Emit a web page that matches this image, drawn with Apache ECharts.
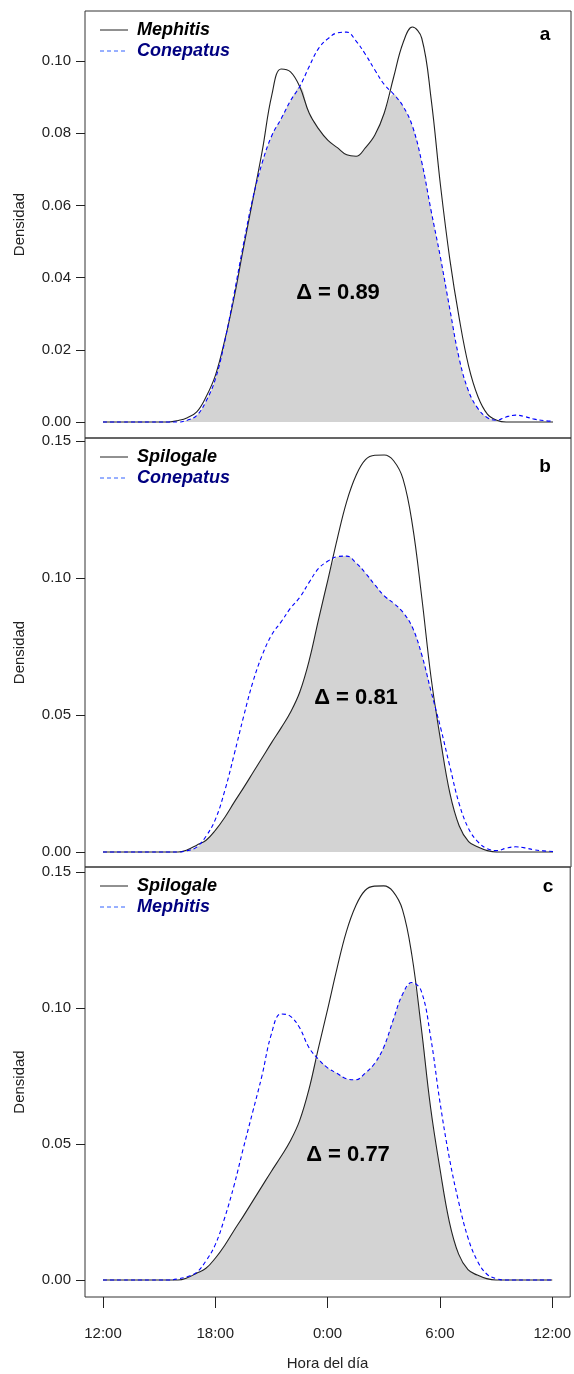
<!DOCTYPE html>
<html>
<head>
<meta charset="utf-8">
<script src="https://cdn.jsdelivr.net/npm/echarts@6/dist/echarts.min.js"></script>
<style>
  html, body { margin: 0; padding: 0; background: #fff; }
  #chart { width: 574px; height: 1374px; }
</style>
</head>
<body>
<div id="chart"></div>
<script>
// hours after noon (0 = 12:00, 12 = 0:00, 24 = 12:00 next day)
var hours = [0, 0.5, 1, 1.5, 2, 2.5, 3, 3.5, 4, 4.5, 5, 5.5, 6, 6.5, 7, 7.5, 8, 8.5, 9, 9.5,
    10, 10.5, 11, 11.5, 12, 12.5, 13, 13.5, 14, 14.5, 15, 15.5, 16, 16.5, 17, 17.5, 18, 18.5,
    19, 19.5, 20, 20.5, 21, 21.5, 22, 22.5, 23, 23.5, 24];
var hourTicks = [0, 6, 12, 18, 24];
var hourLabels = ['12:00', '18:00', '0:00', '6:00', '12:00'];

var mephitis = [0, 0, 0, 0, 0, 0, 0, 0, 0.0004, 0.0012, 0.0028, 0.0070, 0.0130, 0.0228, 0.0347,
    0.0485, 0.0618, 0.0753, 0.0905, 0.0978, 0.0970, 0.0928, 0.0855, 0.0812, 0.0780, 0.0760,
    0.0740, 0.0736, 0.0760, 0.0795, 0.0856, 0.0955, 0.1050, 0.1094, 0.1063, 0.0895, 0.0655,
    0.0450, 0.0287, 0.0155, 0.0070, 0.0022, 0.0005, 0, 0, 0, 0, 0, 0];
var conepatus = [0, 0, 0, 0, 0, 0, 0, 0, 0, 0.0005, 0.0018, 0.0058, 0.0120, 0.0225, 0.0357,
    0.0495, 0.0622, 0.0720, 0.0793, 0.0840, 0.0890, 0.0930, 0.0985, 0.1035, 0.1062, 0.1078,
    0.1080, 0.1055, 0.1018, 0.0975, 0.0935, 0.0908, 0.0875, 0.0820, 0.0720, 0.0585, 0.0455,
    0.0312, 0.0175, 0.0085, 0.0037, 0.0012, 0.0005, 0.0014, 0.0019, 0.0015, 0.0008, 0.0004, 0.0002];
var spilogale = [0, 0, 0, 0, 0, 0, 0, 0, 0, 0.0008, 0.0025, 0.0043, 0.0080, 0.0127, 0.0182,
    0.0235, 0.0290, 0.0345, 0.0400, 0.0453, 0.0510, 0.0585, 0.0700, 0.0850, 0.0995, 0.1145,
    0.1280, 0.1375, 0.1432, 0.1448, 0.1449, 0.1428, 0.1362, 0.1195, 0.0930, 0.0635, 0.0410,
    0.0215, 0.0095, 0.0038, 0.0018, 0.0005, 0, 0, 0, 0, 0, 0, 0];

var panelLetters = ['a', 'b', 'c'];
var panelNames = [['Mephitis', 'Conepatus'], ['Spilogale', 'Conepatus'], ['Spilogale', 'Mephitis']];
var overlapLabels = ['\u0394 = 0.89', '\u0394 = 0.81', '\u0394 = 0.77'];
var yTicksA = [0, 0.02, 0.04, 0.06, 0.08, 0.10];
var yTicksBC = [0, 0.05, 0.10, 0.15];

(function(){
    var myChart = echarts.init(document.getElementById('chart'));
    var curves = { Mephitis: mephitis, Conepatus: conepatus, Spilogale: spilogale };

    var grids = [
        { left: 85, top: 11, width: 486, height: 427 },
        { left: 85, top: 438, width: 486, height: 429 },
        { left: 85, top: 867, width: 486, height: 430 }
    ];
    var yRange = [[-0.00443, 0.11385], [-0.00547, 0.1511], [-0.00625, 0.15184]];
    var yTicks = [yTicksA, yTicksBC, yTicksBC];
    var letterPos = [[545, 35], [545, 467], [548, 887]];
    var deltaPos = [[338, 293], [356, 698], [348, 1155]];
    var font = 'Liberation Sans, Arial';

    var xAxes = [], yAxes = [], series = [], graphics = [];
    grids.forEach(function(g, i){
        g.show = true;
        g.borderColor = '#333';
        g.borderWidth = 1;
        g.backgroundColor = 'rgba(0,0,0,0)';
        var last = i === 2;
        xAxes.push({
            gridIndex: i,
            type: 'value',
            min: -0.96,
            max: 24.96,
            show: last,
            name: last ? 'Hora del d\u00eda' : '',
            nameLocation: 'middle',
            nameGap: 59,
            nameTextStyle: { fontSize: 15, color: '#222', fontFamily: font },
            axisLine: { show: false, onZero: false },
            splitLine: { show: false },
            axisTick: { show: true, length: 11, customValues: hourTicks, lineStyle: { color: '#222' } },
            axisLabel: {
                customValues: hourTicks,
                margin: 29,
                fontSize: 15,
                color: '#222',
                fontFamily: font,
                formatter: function(v){ return hourLabels[hourTicks.indexOf(v)]; }
            }
        });
        yAxes.push({
            gridIndex: i,
            type: 'value',
            min: yRange[i][0],
            max: yRange[i][1],
            name: 'Densidad',
            nameLocation: 'middle',
            nameGap: 58,
            nameTextStyle: { fontSize: 15, color: '#222', fontFamily: font },
            axisLine: { show: false, onZero: false },
            splitLine: { show: false },
            axisTick: { show: true, length: 9, customValues: yTicks[i], lineStyle: { color: '#222' } },
            axisLabel: {
                customValues: yTicks[i],
                margin: 14,
                fontSize: 15,
                color: '#222',
                fontFamily: font,
                formatter: function(v){ return v.toFixed(2); }
            }
        });

        var a = curves[panelNames[i][0]];
        var b = curves[panelNames[i][1]];
        var overlap = hours.map(function(h, k){ return [h, Math.min(a[k], b[k])]; });
        series.push({
            type: 'line', xAxisIndex: i, yAxisIndex: i,
            data: overlap, smooth: 0.4, symbol: 'none',
            lineStyle: { width: 0 },
            areaStyle: { color: '#d3d3d3', opacity: 1 },
            z: 1
        });
        series.push({
            name: panelNames[i][0], type: 'line', xAxisIndex: i, yAxisIndex: i,
            data: hours.map(function(h, k){ return [h, a[k]]; }),
            smooth: 0.4, symbol: 'none',
            lineStyle: { color: '#222', width: 1.1 },
            z: 3
        });
        series.push({
            name: panelNames[i][1], type: 'line', xAxisIndex: i, yAxisIndex: i,
            data: hours.map(function(h, k){ return [h, b[k]]; }),
            smooth: 0.4, symbol: 'none',
            lineStyle: { color: '#0000ff', width: 1.1, type: [4, 3] },
            z: 4
        });

        // legend
        var rowY = [g.top + 19, g.top + 40];
        graphics.push({ type: 'line', shape: { x1: 100, y1: rowY[0], x2: 128, y2: rowY[0] },
            style: { stroke: '#222', lineWidth: 1 } });
        graphics.push({ type: 'line', shape: { x1: 100, y1: rowY[1], x2: 128, y2: rowY[1] },
            style: { stroke: '#3060ff', lineWidth: 1, lineDash: [4, 3] } });
        graphics.push({ type: 'text', x: 137, y: rowY[0],
            style: { text: panelNames[i][0], fill: '#000', fontSize: 18, fontWeight: 'bold',
                fontStyle: 'italic', fontFamily: font, verticalAlign: 'middle' } });
        graphics.push({ type: 'text', x: 137, y: rowY[1],
            style: { text: panelNames[i][1], fill: '#000080', fontSize: 18, fontWeight: 'bold',
                fontStyle: 'italic', fontFamily: font, verticalAlign: 'middle' } });
        graphics.push({ type: 'text', x: letterPos[i][0], y: letterPos[i][1],
            style: { text: panelLetters[i], fill: '#000', fontSize: 19, fontWeight: 'bold',
                fontFamily: font, align: 'center', verticalAlign: 'middle' } });
        graphics.push({ type: 'text', x: deltaPos[i][0], y: deltaPos[i][1], z: 10,
            style: { text: overlapLabels[i], fill: '#000', fontSize: 22, fontWeight: 'bold',
                fontFamily: font, align: 'center', verticalAlign: 'middle' } });
    });

    var option = {
        animation: false,
        backgroundColor: '#fff',
        grid: grids,
        xAxis: xAxes,
        yAxis: yAxes,
        series: series,
        graphic: graphics
    };
    myChart.setOption(option);
    window.addEventListener('resize', function() {
        myChart.resize();
    });
})();
</script>
</body>
</html>
